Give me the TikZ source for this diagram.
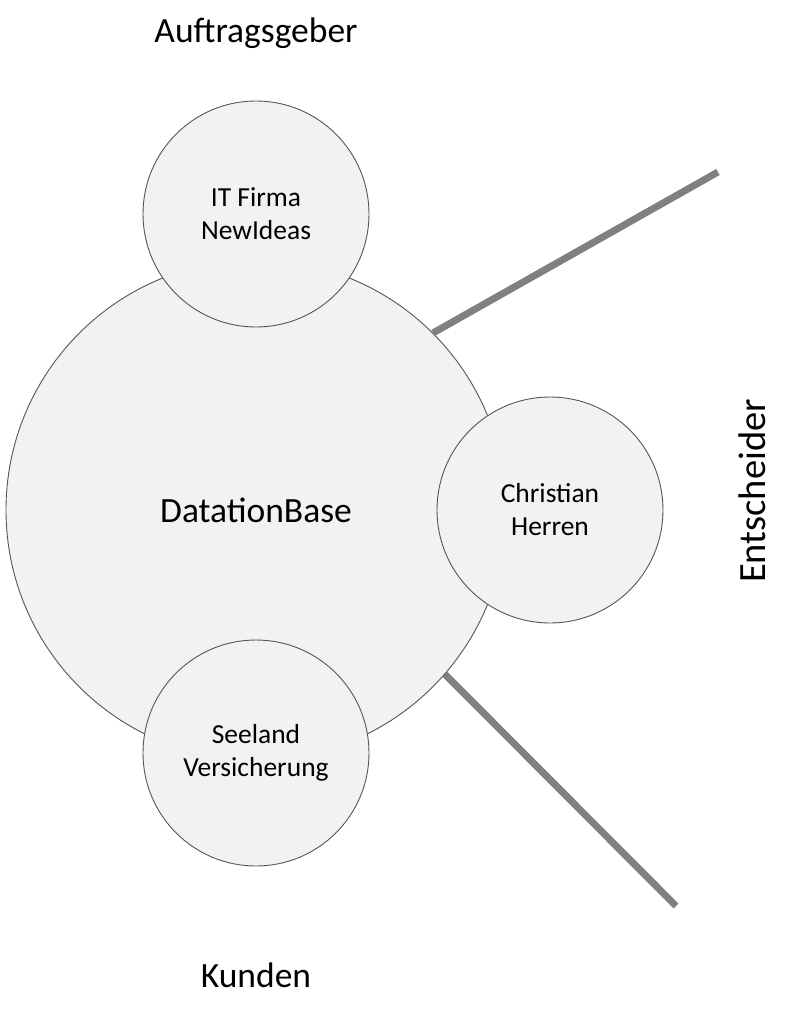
\documentclass[tikz,border=0pt]{standalone}
\usepackage{fontspec}
\setmainfont{Carlito}
\definecolor{circfill}{HTML}{F2F2F2}
\definecolor{circline}{HTML}{555555}
\definecolor{barcol}{HTML}{808080}
\begin{document}
\begin{tikzpicture}[x=1pt,y=-1pt,
  bigcirc/.style={circle,draw=circline,fill=circfill,line width=0.9pt,minimum size=500pt,inner sep=0pt,font=\fontsize{35.5}{40}\selectfont},
  smallcirc/.style={circle,draw=circline,fill=circfill,line width=0.9pt,minimum size=226pt,inner sep=0pt,align=center,font=\fontsize{27.5}{33}\selectfont},
  bar/.style={draw=barcol,line width=7pt},
  lbl/.style={font=\fontsize{35.5}{40}\selectfont,inner sep=0pt}]
\useasboundingbox (0,0) rectangle (790,1015);
\node[bigcirc] (base) at (256,510) {DatationBase};
\node[smallcirc] (it) at (256,214) {IT Firma\\NewIdeas};
\node[smallcirc] (ch) at (550,510) {Christian\\Herren};
\node[smallcirc] (sv) at (256,753) {Seeland\\Versicherung};
\coordinate (e1) at (718,172);
\coordinate (e2) at (676,906);
\draw[bar] (base.45) -- (e1);
\draw[bar] (base.-41) -- (e2);
\node[lbl] (auf) at (256,33) {Auftragsgeber};
\node[lbl] (kun) at (256,975) {Kunden};
\node[lbl,rotate=90,font=\fontsize{38.5}{44}\selectfont] (ent) at (752,491) {Entscheider};
\end{tikzpicture}
\end{document}
